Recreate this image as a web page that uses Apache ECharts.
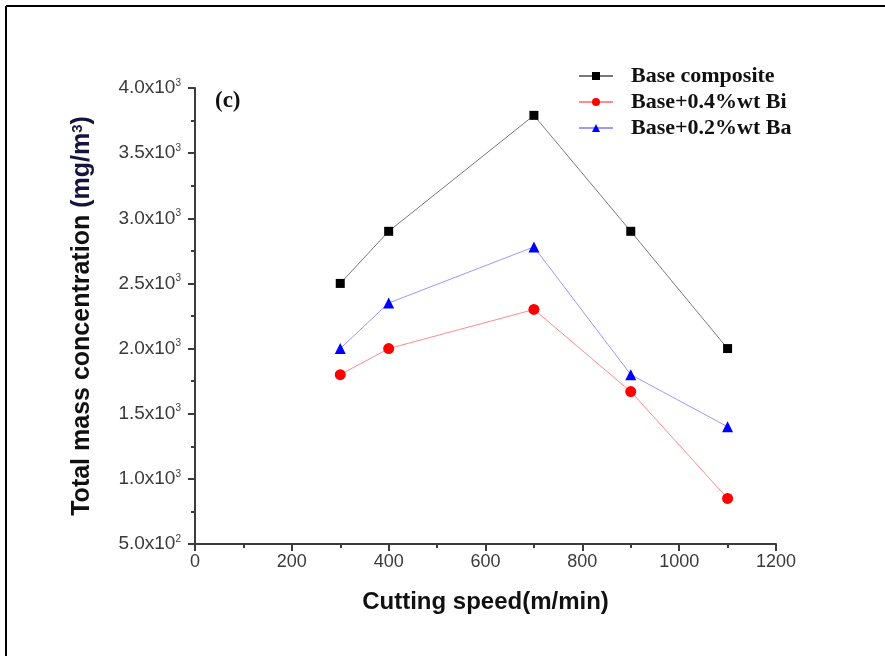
<!DOCTYPE html>
<html>
<head>
<meta charset="utf-8">
<script src="https://cdn.jsdelivr.net/npm/echarts@6/dist/echarts.min.js"></script>
<style>html,body{margin:0;padding:0;background:#fff}#c{width:885px;height:656px}</style>
</head>
<body>
<div id="c"></div>
<script>
var speeds = [300, 400, 700, 900, 1100];
var baseComposite = [2500, 2900, 3790, 2900, 2000];
var baseBi = [1800, 2000, 2300, 1670, 850];
var baseBa = [2000, 2350, 2780, 1800, 1400];
var seriesNames = ['Base composite', 'Base+0.4%wt Bi', 'Base+0.2%wt Ba'];
var yTickValues = [500, 1000, 1500, 2000, 2500, 3000, 3500, 4000];
var yTickMantissa = ['5.0', '1.0', '1.5', '2.0', '2.5', '3.0', '3.5', '4.0'];
var yTickExponent = ['2', '3', '3', '3', '3', '3', '3', '3'];
var xTickLabels = ['0', '200', '400', '600', '800', '1000', '1200'];

function pairs(ys){ return speeds.map(function(x,i){ return [x, ys[i]]; }); }

var chart = echarts.init(document.getElementById('c'), null, {renderer:'canvas'});
var axisCol = '#3c3c3c';
var option = {
  backgroundColor: '#fff',
  animation: false,
  title: {
    text: '(c)', left: 210, top: 85,
    textStyle: {fontFamily: 'Liberation Serif', fontWeight: 'bold', fontSize: 23, color: '#111'}
  },
  legend: {
    orient: 'vertical', left: 573, top: 60,
    itemWidth: 34, itemHeight: 10, itemGap: 4,
    textStyle: {fontFamily: 'Liberation Serif', fontWeight: 'bold', fontSize: 22, color: '#111', padding: [0,0,0,13]},
    data: seriesNames
  },
  grid: {left: 195, right: 109, top: 88, bottom: 112, containLabel: false},
  xAxis: {
    type: 'value', min: 0, max: 1200, interval: 200,
    name: 'Cutting speed(m/min)', nameLocation: 'middle', nameGap: 46,
    nameTextStyle: {fontFamily: 'Liberation Sans', fontWeight: 'bold', fontSize: 24, color: '#111'},
    axisLine: {show: true, onZero: false, lineStyle: {color: axisCol, width: 2}},
    axisTick: {show: true, length: 7, lineStyle: {color: axisCol, width: 2}},
    minorTick: {show: true, splitNumber: 2, length: 4, lineStyle: {color: axisCol, width: 2}},
    splitLine: {show: false},
    axisLabel: {fontFamily: 'Liberation Sans', fontSize: 18, color: '#3a3a3a', margin: 9,
      formatter: function(v){ var i = Math.round(v/200); return xTickLabels[i] !== undefined ? xTickLabels[i] : ''; }}
  },
  yAxis: {
    type: 'value', min: 500, max: 4000, interval: 500,
    name: '{t|Total mass concentration }{u|(mg/m}{s|3}{u|)}', nameLocation: 'middle', nameGap: 100, nameRotate: 90,
    nameTextStyle: {
      rich: {
        t: {fontFamily: 'Liberation Sans', fontWeight: 'bold', fontSize: 25, color: '#111'},
        u: {fontFamily: 'Liberation Sans', fontWeight: 'bold', fontSize: 25, color: '#14143c'},
        s: {fontFamily: 'Liberation Sans', fontWeight: 'bold', fontSize: 15, color: '#14143c', verticalAlign: 'top', padding: [0,0,10,0]}
      }
    },
    axisLine: {show: true, onZero: false, lineStyle: {color: axisCol, width: 2}},
    axisTick: {show: true, length: 7, lineStyle: {color: axisCol, width: 2}},
    minorTick: {show: true, splitNumber: 2, length: 4, lineStyle: {color: axisCol, width: 2}},
    splitLine: {show: false},
    axisLabel: {margin: 14,
      formatter: function(v){
        var i = yTickValues.indexOf(v);
        if (i < 0) return '';
        return '{m|' + yTickMantissa[i] + 'x10}{e|' + yTickExponent[i] + '}';
      },
      rich: {
        m: {fontFamily: 'Liberation Sans', fontSize: 19, color: '#3a3a3a'},
        e: {fontFamily: 'Liberation Sans', fontSize: 10, color: '#3a3a3a', verticalAlign: 'top', padding: [0,0,10,0]}
      }
    }
  },
  graphic: [
    {type: 'line', shape: {x1: 6, y1: 6, x2: 885, y2: 6}, style: {stroke: '#000', lineWidth: 2}},
    {type: 'line', shape: {x1: 6, y1: 6, x2: 6, y2: 656}, style: {stroke: '#000', lineWidth: 2}}
  ],
  series: [
    {name: seriesNames[0], type: 'line', data: pairs(baseComposite), symbol: 'rect', symbolSize: 9,
     itemStyle: {color: '#000'}, lineStyle: {color: '#7a7a7a', width: 1}},
    {name: seriesNames[1], type: 'line', data: pairs(baseBi), symbol: 'circle', symbolSize: 11,
     itemStyle: {color: '#f00'}, lineStyle: {color: '#ff8c8c', width: 1}},
    {name: seriesNames[2], type: 'line', data: pairs(baseBa), symbol: 'triangle', symbolSize: 11,
     itemStyle: {color: '#0000ff'}, lineStyle: {color: '#9999ff', width: 1}}
  ]
};
chart.setOption(option);
</script>
</body>
</html>
